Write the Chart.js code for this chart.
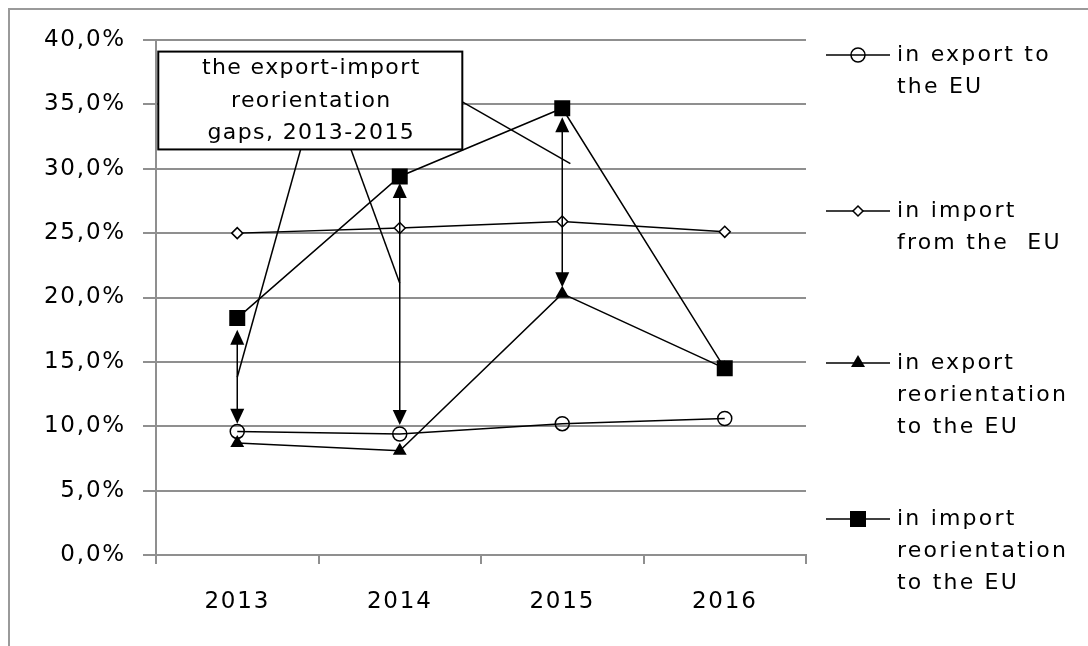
<!DOCTYPE html>
<html>
<head>
<meta charset="utf-8">
<script src="https://cdn.jsdelivr.net/npm/chart.js@4"></script>
<style>
html, body { margin: 0; padding: 0; background: #fff; }
#wrap { position: relative; width: 1088px; height: 646px; }
</style>
</head>
<body>
<div id="wrap"><canvas id="gapChart" width="1088" height="646"></canvas></div>
<script>
const years = ['2013', '2014', '2015', '2016'];
const exportToEU = [9.6, 9.4, 10.2, 10.6];
const importFromEU = [25.0, 25.4, 25.9, 25.1];
const exportReorientation = [8.7, 8.1, 20.3, 14.5];
const importReorientation = [18.4, 29.4, 34.7, 14.5];
// gap arrows for 2013-2015 (lower tip, upper tip)
const gapLow = [10.2, 10.1, 20.8];
const gapHigh = [17.5, 28.9, 34.0];
// where the callout pointers touch the arrows
const calloutTargets = [13.8, 21.1, 30.4];
const calloutText = ['the export-import', 'reorientation', 'gaps, 2013-2015'];
const legendLabels = [
    ['in export to', 'the EU'],
    ['in import', 'from the  EU'],
    ['in export', 'reorientation', 'to the EU'],
    ['in import', 'reorientation', 'to the EU']
];
const legendMarkers = ['circle', 'diamond', 'triangle', 'square'];

const FONT = '"DejaVu Sans", Verdana, sans-serif';
const GRID = '#8f8f8f';
const INK = '#000';

function marker(ctx, style, x, y) {
    ctx.save();
    ctx.strokeStyle = '#000';
    ctx.fillStyle = '#000';
    ctx.lineWidth = 1.5;
    ctx.beginPath();
    if (style === 'circle') {
        ctx.arc(x, y, 7, 0, Math.PI * 2);
        ctx.stroke();
    } else if (style === 'diamond') {
        ctx.moveTo(x, y - 5); ctx.lineTo(x + 5, y); ctx.lineTo(x, y + 5); ctx.lineTo(x - 5, y);
        ctx.closePath();
        ctx.fillStyle = '#fff';
        ctx.fill();
        ctx.stroke();
    } else if (style === 'triangle') {
        ctx.moveTo(x, y - 8); ctx.lineTo(x + 7, y + 4); ctx.lineTo(x - 7, y + 4);
        ctx.closePath();
        ctx.fill();
    } else {
        ctx.rect(x - 8, y - 8, 16, 16);
        ctx.fill();
    }
    ctx.restore();
}

function arrowHead(ctx, x, tipY, dir) {
    // dir -1: pointing up, 1: pointing down
    ctx.beginPath();
    ctx.moveTo(x, tipY);
    ctx.lineTo(x - 7, tipY - dir * 15);
    ctx.lineTo(x + 7, tipY - dir * 15);
    ctx.closePath();
    ctx.fill();
}

const extras = {
    id: 'extras',
    beforeDraw(chart) {
        const ctx = chart.ctx;
        ctx.letterSpacing = '1.8px';
        ctx.save();
        ctx.strokeStyle = '#9a9a9a';
        ctx.lineWidth = 2;
        ctx.strokeRect(9, 9, 1200, 800);
        ctx.restore();
    },
    afterDatasetsDraw(chart) {
        const ctx = chart.ctx;
        const xs = chart.scales.x, ys = chart.scales.y;
        ctx.save();
        ctx.strokeStyle = '#000';
        ctx.fillStyle = '#000';
        ctx.lineWidth = 1.5;

        // gap arrows
        gapLow.forEach((lo, i) => {
            const x = xs.getPixelForValue(i);
            const y1 = ys.getPixelForValue(lo), y2 = ys.getPixelForValue(gapHigh[i]);
            ctx.beginPath();
            ctx.moveTo(x, y1 - 8);
            ctx.lineTo(x, y2 + 8);
            ctx.stroke();
            arrowHead(ctx, x, y1, 1);
            arrowHead(ctx, x, y2, -1);
        });

        // callout box
        const bl = xs.getPixelForValue(-0.486), br = xs.getPixelForValue(1.385);
        const bt = ys.getPixelForValue(39.1), bb = ys.getPixelForValue(31.5);
        ctx.fillStyle = '#fff';
        ctx.fillRect(bl, bt, br - bl, bb - bt);
        ctx.lineWidth = 2;
        ctx.strokeRect(bl, bt, br - bl, bb - bt);

        // pointers from the box to the arrows
        const starts = [[0.39, 31.5], [0.70, 31.5], [1.385, 35.2]];
        const ends = [0, 1, 2.05];
        ctx.lineWidth = 1.5;
        starts.forEach((s, i) => {
            ctx.beginPath();
            ctx.moveTo(xs.getPixelForValue(s[0]), ys.getPixelForValue(s[1]));
            ctx.lineTo(xs.getPixelForValue(ends[i]), ys.getPixelForValue(calloutTargets[i]));
            ctx.stroke();
        });

        ctx.fillStyle = INK;
        ctx.font = '22px ' + FONT;
        ctx.letterSpacing = '1.4px';
        ctx.textAlign = 'center';
        ctx.textBaseline = 'middle';
        calloutText.forEach((t, i) => {
            ctx.fillText(t, (bl + br) / 2 + 1, bt + 17 + i * 32.5);
        });
        ctx.restore();
    },
    afterDraw(chart) {
        const ctx = chart.ctx;
        const tops = [55, 211, 363, 519];
        ctx.save();
        ctx.font = '22px ' + FONT;
        ctx.letterSpacing = '2.2px';
        ctx.fillStyle = INK;
        ctx.textAlign = 'left';
        ctx.textBaseline = 'middle';
        legendLabels.forEach((lines, i) => {
            const y = tops[i];
            ctx.strokeStyle = '#000';
            ctx.lineWidth = 1.5;
            ctx.beginPath();
            ctx.moveTo(826, y);
            ctx.lineTo(890, y);
            ctx.stroke();
            marker(ctx, legendMarkers[i], 858, y);
            lines.forEach((t, j) => ctx.fillText(t, 897, y + j * 32));
        });
        ctx.restore();
    }
};

const ctx = document.getElementById('gapChart').getContext('2d');
const gapChart = new Chart(ctx, {
    type: 'line',
    data: {
        labels: years,
        datasets: [{
            label: 'in import reorientation to the EU',
            data: importReorientation,
            order: 0,
            borderColor: '#000',
            borderWidth: 1.5,
            pointStyle: 'rect',
            pointRadius: 11.3,
            pointBackgroundColor: '#000',
            pointBorderWidth: 0
        }, {
            label: 'in export reorientation to the EU',
            data: exportReorientation,
            order: 1,
            borderColor: '#000',
            borderWidth: 1.5,
            pointStyle: 'triangle',
            pointRadius: 8,
            pointBackgroundColor: '#000',
            pointBorderWidth: 0
        }, {
            label: 'in import from the EU',
            data: importFromEU,
            order: 2,
            borderColor: '#000',
            borderWidth: 1.5,
            pointStyle: 'rectRot',
            pointRadius: 5.5,
            pointBackgroundColor: '#fff',
            pointBorderColor: '#000',
            pointBorderWidth: 1.5
        }, {
            label: 'in export to the EU',
            data: exportToEU,
            order: 3,
            borderColor: '#000',
            borderWidth: 1.5,
            pointStyle: 'circle',
            pointRadius: 7,
            pointBackgroundColor: 'rgba(0,0,0,0)',
            pointBorderColor: '#000',
            pointBorderWidth: 1.5
        }]
    },
    options: {
        responsive: false,
        animation: false,
        layout: { padding: { left: 10, top: 40, right: 282, bottom: 0 } },
        plugins: {
            legend: { display: false },
            tooltip: { enabled: false }
        },
        scales: {
            x: {
                offset: true,
                afterFit(scale) { scale.height = 91; },
                grid: { offset: true, drawOnChartArea: false, drawTicks: true, tickLength: 9, color: GRID, lineWidth: 2 },
                border: { display: true, color: GRID, width: 2 },
                ticks: { padding: 24, color: INK, font: { family: FONT, size: 23 } }
            },
            y: {
                min: 0,
                max: 40,
                afterFit(scale) { scale.width = 146; },
                grid: { color: GRID, lineWidth: 2, tickLength: 13 },
                border: { display: true, color: GRID, width: 2 },
                ticks: {
                    stepSize: 5,
                    padding: 17,
                    color: INK,
                    font: { family: FONT, size: 23 },
                    callback: v => v.toFixed(1).replace('.', ',') + '%'
                }
            }
        }
    },
    plugins: [extras]
});
</script>
</body>
</html>
